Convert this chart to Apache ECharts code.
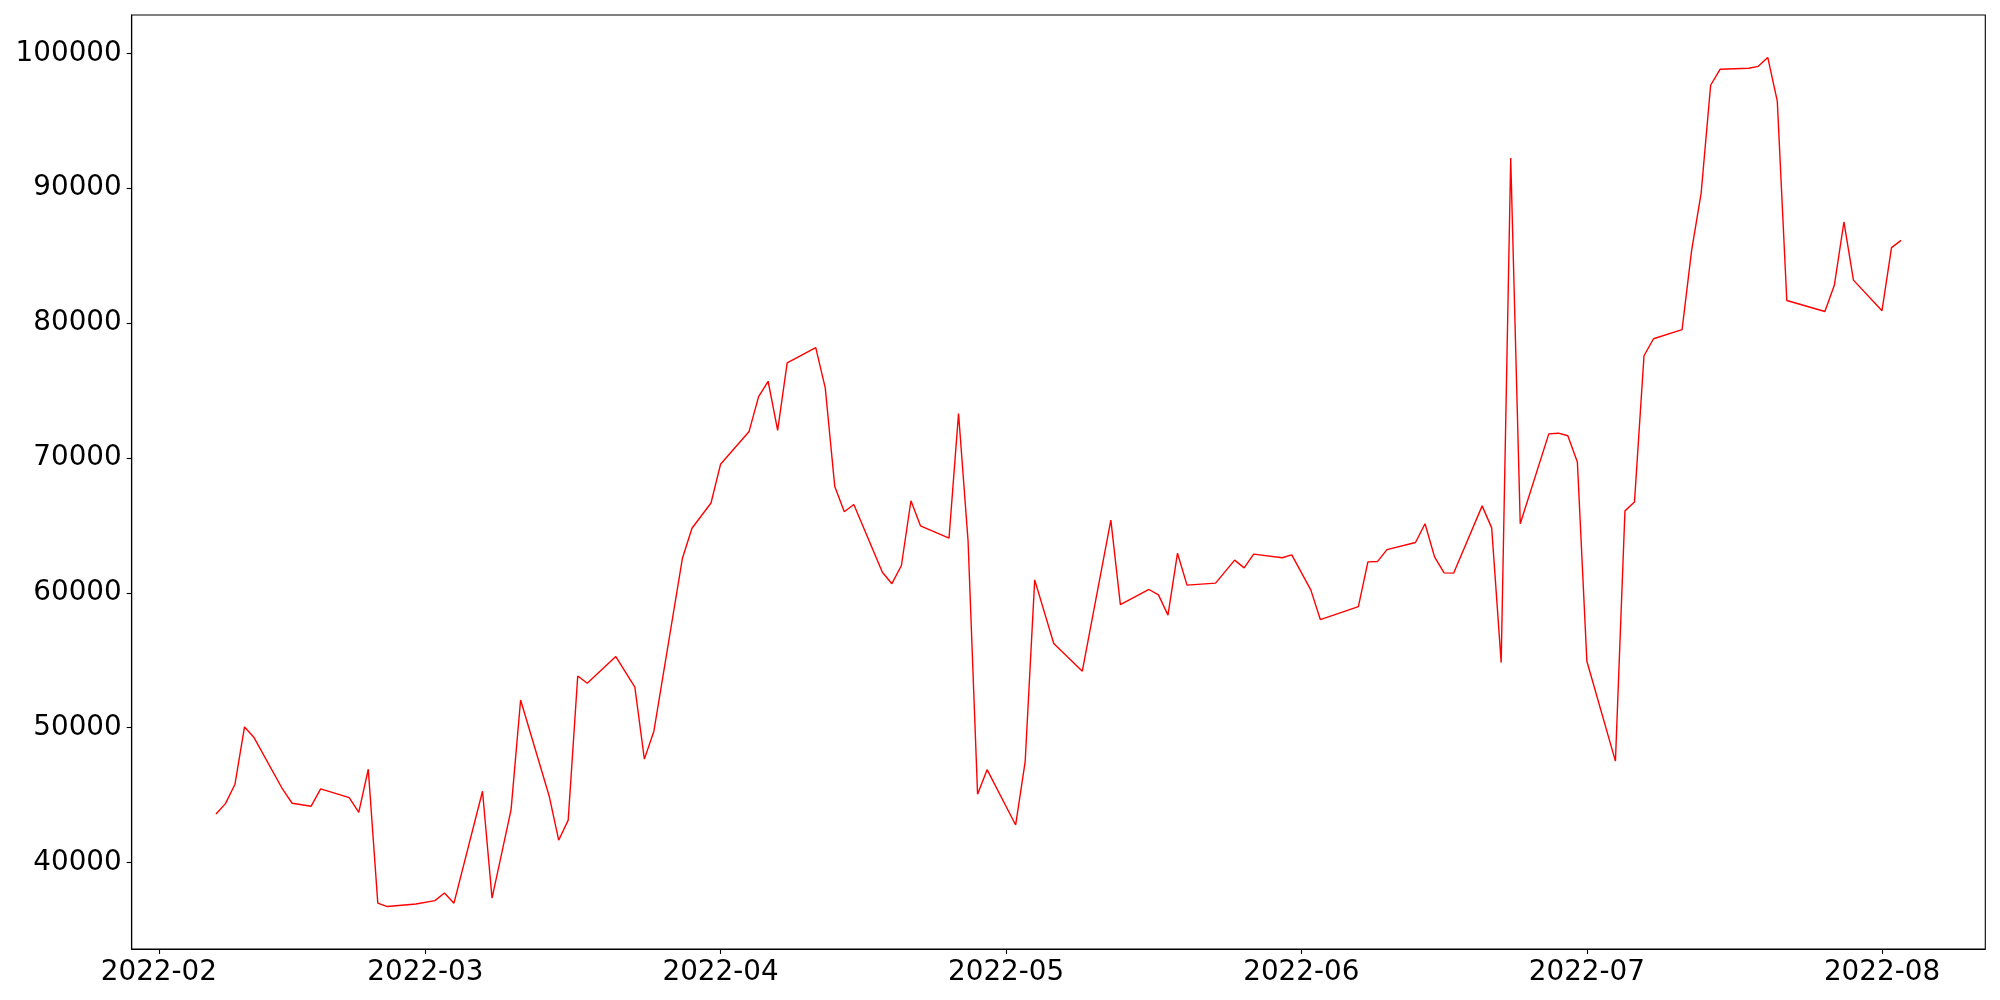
<!DOCTYPE html>
<html>
<head>
<meta charset="utf-8">
<script src="https://cdn.jsdelivr.net/npm/echarts@6/dist/echarts.min.js"></script>
<style>html,body{margin:0;padding:0;background:#fff;}#c{width:2000px;height:1000px;}</style>
</head>
<body>
<div id="c"></div>
<script>
// ---- data ----
const febDates = ['2022-02-07','2022-02-08','2022-02-09','2022-02-10','2022-02-11','2022-02-14','2022-02-15','2022-02-17','2022-02-18','2022-02-21','2022-02-22','2022-02-23','2022-02-24','2022-02-25','2022-02-28'];
const febValues = [43600,44370,45810,50060,49270,45440,44400,44180,45460,44820,43730,46920,36990,36740,36930];
const marDates = ['2022-03-02','2022-03-03','2022-03-04','2022-03-07','2022-03-08','2022-03-10','2022-03-11','2022-03-14','2022-03-15','2022-03-16','2022-03-17','2022-03-18','2022-03-21','2022-03-23','2022-03-24','2022-03-25','2022-03-28','2022-03-29','2022-03-31'];
const marValues = [37180,37750,36990,45290,37360,43930,52060,44940,41660,43150,53840,53300,55280,53010,47670,49740,62570,64790,66660];
const aprDates = ['2022-04-01','2022-04-04','2022-04-05','2022-04-06','2022-04-07','2022-04-08','2022-04-11','2022-04-12','2022-04-13','2022-04-14','2022-04-15','2022-04-18','2022-04-19','2022-04-20','2022-04-21','2022-04-22','2022-04-25','2022-04-26','2022-04-27','2022-04-28','2022-04-29'];
const aprValues = [69530,71970,74550,75690,72050,77050,78190,75200,67880,66010,66550,61530,60680,62030,66830,64970,64060,73300,63860,45070,46890];
const mayDates = ['2022-05-02','2022-05-03','2022-05-04','2022-05-06','2022-05-09','2022-05-12','2022-05-13','2022-05-16','2022-05-17','2022-05-18','2022-05-19','2022-05-20','2022-05-23','2022-05-25','2022-05-26','2022-05-27','2022-05-30','2022-05-31'];
const mayValues = [42790,47490,60960,56240,54190,65390,59130,60250,59850,58350,62940,60570,60720,62430,61850,62870,62600,62820];
const junDates = ['2022-06-02','2022-06-03','2022-06-07','2022-06-08','2022-06-09','2022-06-10','2022-06-13','2022-06-14','2022-06-15','2022-06-16','2022-06-17','2022-06-20','2022-06-21','2022-06-22','2022-06-23','2022-06-24','2022-06-27','2022-06-28','2022-06-29','2022-06-30'];
const junValues = [60220,58020,58980,62300,62320,63210,63730,65120,62670,61480,61460,66450,64820,54830,92250,65120,71790,71840,71650,69710];
const julDates = ['2022-07-01','2022-07-04','2022-07-05','2022-07-06','2022-07-07','2022-07-08','2022-07-11','2022-07-12','2022-07-13','2022-07-14','2022-07-15','2022-07-18','2022-07-19','2022-07-20','2022-07-21','2022-07-22','2022-07-26','2022-07-27','2022-07-28','2022-07-29'];
const julValues = [54930,47520,66080,66730,77580,78840,79520,85380,89620,97640,98830,98900,99040,99700,96460,81680,80860,82830,87500,83190];
const augDates = ['2022-08-01','2022-08-02','2022-08-03'];
const augValues = [80920,85600,86140];

const yTicks = [40000,50000,60000,70000,80000,90000,100000];
const xTickMonths = ['2022-02','2022-03','2022-04','2022-05','2022-06','2022-07','2022-08'];

// ---- build ----
const dates = [].concat(febDates, marDates, aprDates, mayDates, junDates, julDates, augDates);
const values = [].concat(febValues, marValues, aprValues, mayValues, junValues, julValues, augValues);
function toTs(s){ const p = s.split('-').map(Number); return Date.UTC(p[0], p[1]-1, p[2] || 1); }
const seriesData = dates.map((d,i)=>[toTs(d), values[i]]);
const xTickValues = xTickMonths.map(toTs);
const labelOf = {};
xTickMonths.forEach((m,i)=>{ labelOf[xTickValues[i]] = m; });

const FONT = 'DejaVu Sans';
const chart = echarts.init(document.getElementById('c'), null, {renderer:'canvas', width:2000, height:1000});
chart.setOption({
  animation: false,
  backgroundColor: '#ffffff',
  grid: { left: 131.7, right: 14.7, top: 15, bottom: 51, show: true, borderColor: '#000', borderWidth: 1.1, backgroundColor: 'transparent' },
  xAxis: {
    type: 'value',
    scale: true,
    min: v => v.min - 0.05*(v.max - v.min),
    max: v => v.max + 0.05*(v.max - v.min),
    splitLine: { show: false },
    axisLine: { show: true, lineStyle: { color: '#000', width: 1.1 } },
    axisTick: { show: true, length: 5, lineStyle: { color: '#000', width: 1.1 }, customValues: xTickValues },
    axisLabel: {
      customValues: xTickValues, color: '#000', fontSize: 27.8, fontFamily: FONT, margin: 10,
      formatter: v => labelOf[v] || ''
    }
  },
  yAxis: {
    type: 'value',
    scale: true,
    min: v => v.min - 0.05*(v.max - v.min),
    max: v => v.max + 0.05*(v.max - v.min),
    splitLine: { show: false },
    axisLine: { show: true, lineStyle: { color: '#000', width: 1.1 } },
    axisTick: { show: true, length: 5, lineStyle: { color: '#000', width: 1.1 }, customValues: yTicks },
    axisLabel: { customValues: yTicks, color: '#000', fontSize: 27.8, fontFamily: FONT, margin: 10,
      formatter: v => String(Math.round(v)) }
  },
  series: [{
    type: 'line',
    data: seriesData,
    showSymbol: false,
    symbol: 'none',
    lineStyle: { color: '#ff0000', width: 1.4 },
    itemStyle: { color: '#ff0000' }
  }]
});
</script>
</body>
</html>
